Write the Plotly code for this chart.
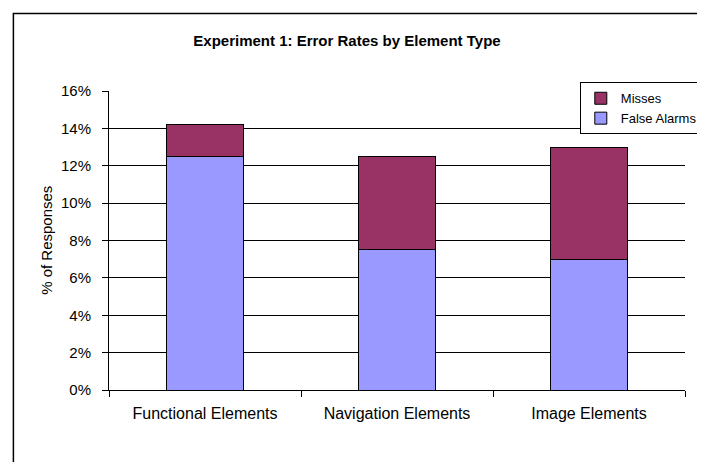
import plotly.graph_objects as go

categories = ["Functional Elements", "Navigation Elements", "Image Elements"]
false_alarms = [12.5, 7.5, 7.0]
misses = [1.7, 5.0, 6.0]
y_ticks = [0, 2, 4, 6, 8, 10, 12, 14, 16]
y_tick_labels = [f"{v}%" for v in y_ticks]

FONT = "Liberation Sans, Arial, sans-serif"

fig = go.Figure()
fig.add_trace(go.Bar(
    x=categories, y=false_alarms, name="False Alarms",
    marker=dict(color="#9999FF", line=dict(color="#000000", width=1)),
    width=0.4,
))
fig.add_trace(go.Bar(
    x=categories, y=misses, name="Misses",
    marker=dict(color="#993366", line=dict(color="#000000", width=1)),
    width=0.4,
))

# The page body has an 8px margin: work in reference pixels minus 8.
OFF = 8
W, H = 705 - OFF, 462 - OFF
L = 108.7 - OFF
R = W - (685.3 - OFF)
T = 90.7 - OFF
B = H - (390 - OFF)
pw = W - L - R
ph = H - T - B

def px_x(px):  # reference pixel -> paper x
    return (px - OFF - L) / pw

def px_y(py):  # reference pixel -> paper y
    return (H - B - (py - OFF)) / ph

fig.update_layout(
    width=W, height=H,
    margin=dict(l=L, r=R, t=T, b=B, pad=0, autoexpand=False),
    paper_bgcolor="white", plot_bgcolor="white",
    barmode="stack",
    font=dict(family=FONT, color="black", size=15),
    title=dict(
        text="<b>Experiment 1: Error Rates by Element Type</b>",
        x=(347 - OFF) / W, xanchor="center", xref="container",
        y=1 - (41 - OFF) / H, yanchor="middle", yref="container",
        font=dict(family=FONT, size=15, color="black"),
    ),
    showlegend=True,
    legend=dict(
        x=px_x(580), y=px_y(82), xanchor="left", yanchor="top",
        bgcolor="white", bordercolor="black", borderwidth=1,
        traceorder="reversed",
        font=dict(family=FONT, size=13, color="black"),
        tracegroupgap=0, itemwidth=30,
    ),
    xaxis=dict(
        showline=True, linecolor="black", linewidth=1,
        ticks="outside", ticklen=6, tickcolor="black", tickwidth=1,
        tickson="boundaries",
        showgrid=False, zeroline=False,
        tickfont=dict(family=FONT, size=16, color="black"),
        ticklabelstandoff=9,
    ),
    yaxis=dict(
        range=[0, 16], tickvals=y_ticks, ticktext=y_tick_labels,
        showline=True, linecolor="black", linewidth=1,
        ticks="outside", ticklen=6, tickcolor="black", tickwidth=1,
        showgrid=True, gridcolor="black", gridwidth=1,
        zeroline=False,
        tickfont=dict(family=FONT, size=15, color="black"),
        ticklabelstandoff=8,
    ),
    annotations=[dict(
        text="% of Responses", textangle=-90,
        x=px_x(46), y=0.5, xref="paper", yref="paper",
        xanchor="center", yanchor="middle", showarrow=False,
        font=dict(family=FONT, size=15, color="black"),
    )],
    shapes=[dict(
        type="rect", xref="paper", yref="paper",
        x0=px_x(13), x1=px_x(800), y0=px_y(560), y1=px_y(13),
        line=dict(color="black", width=1.5), fillcolor="rgba(0,0,0,0)",
        layer="above",
    )],
)

fig.write_html("out.html")
